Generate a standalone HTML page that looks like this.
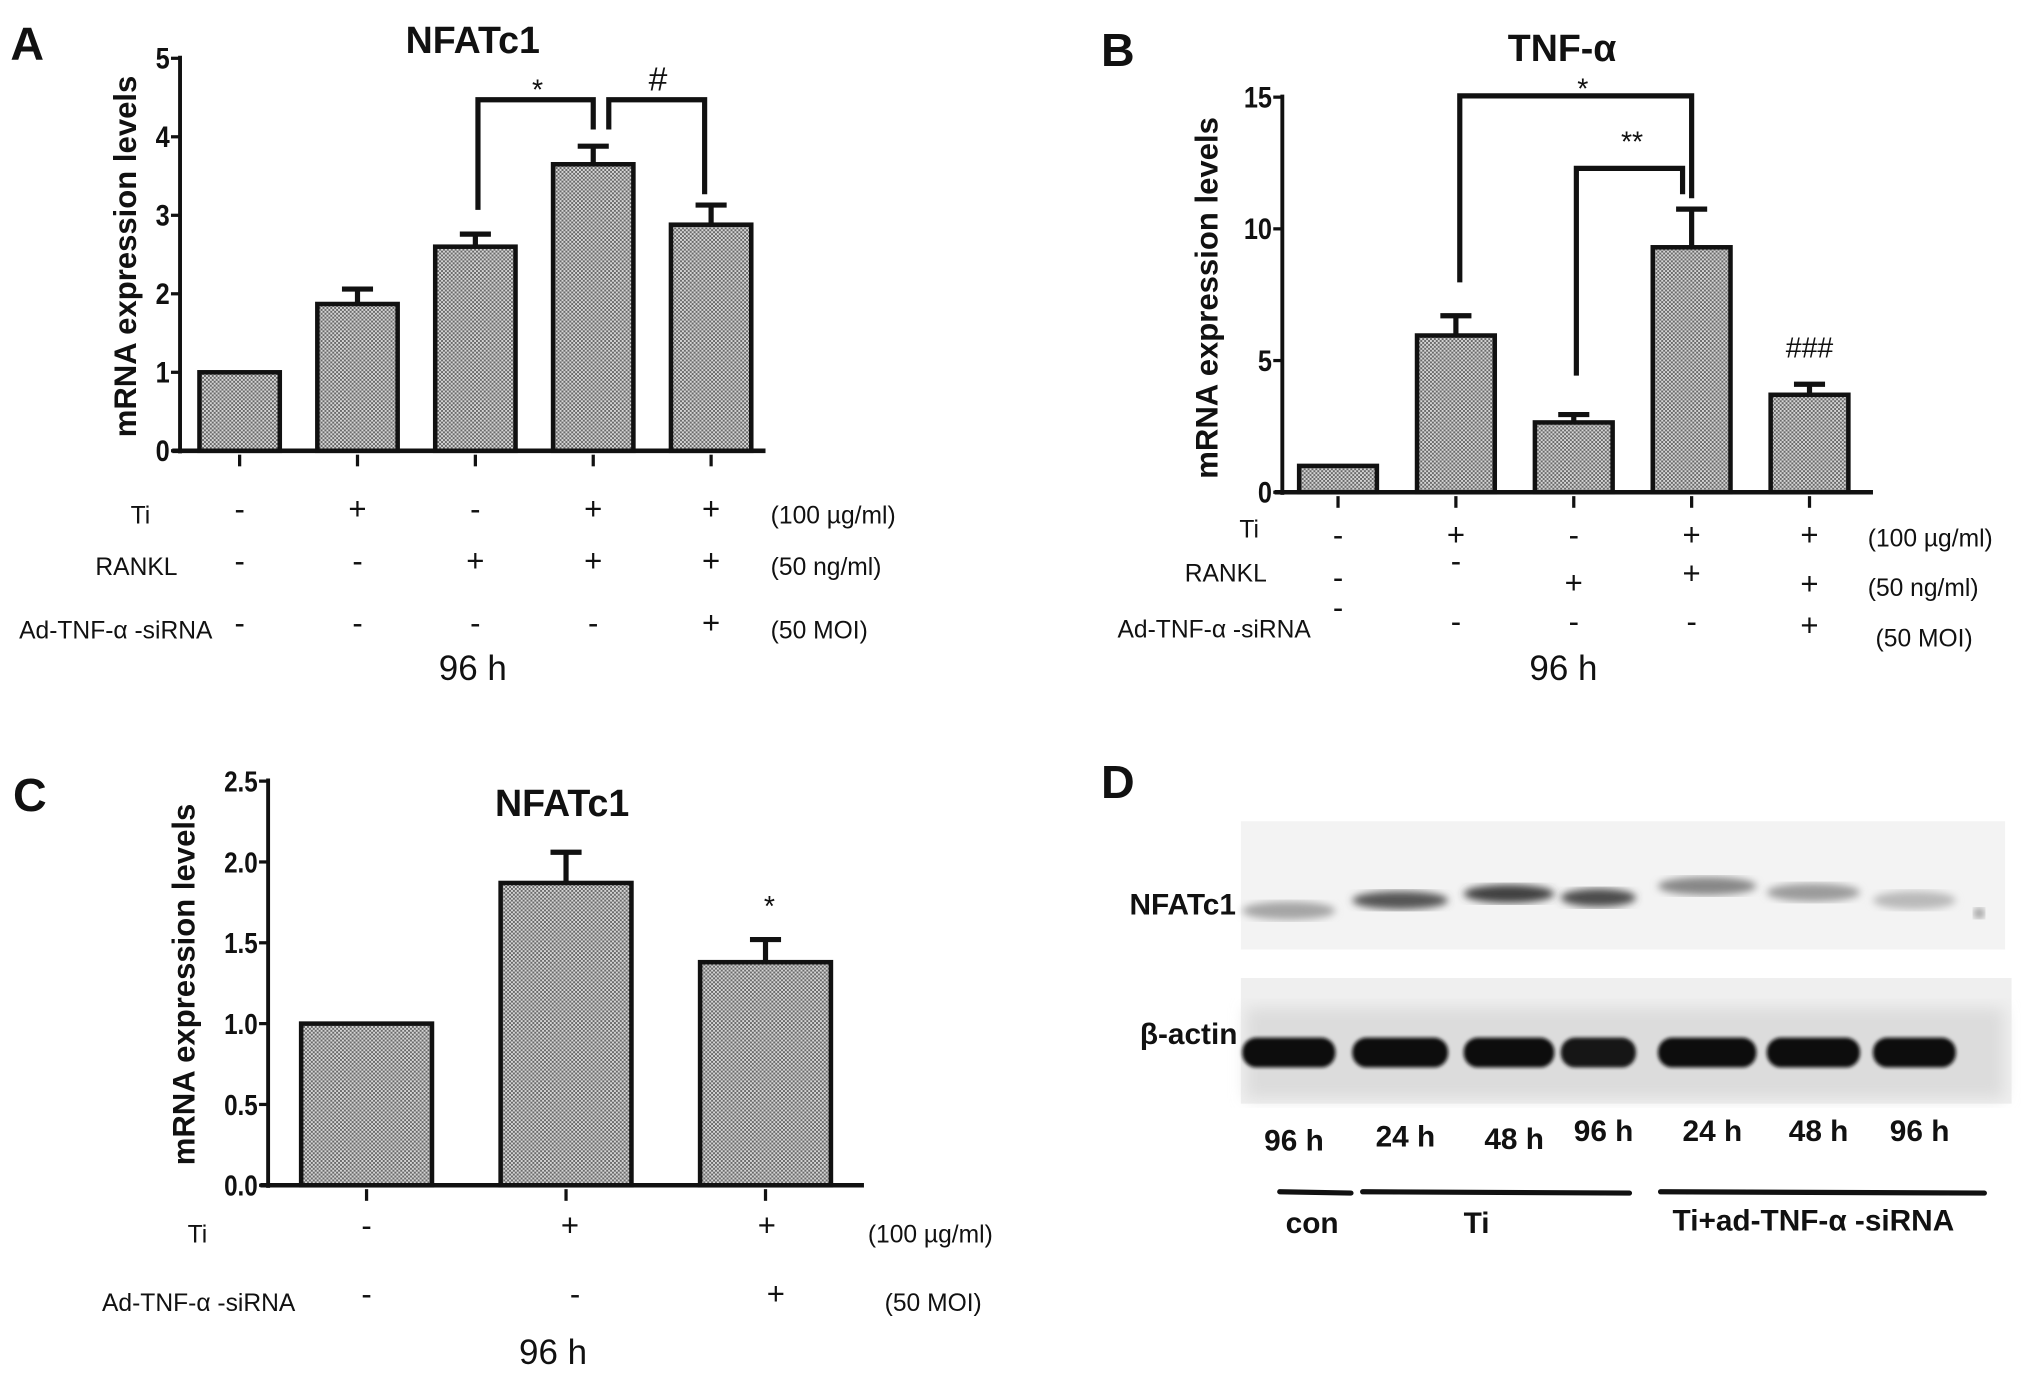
<!DOCTYPE html>
<html><head><meta charset="utf-8">
<style>
html,body{margin:0;padding:0;background:#fff;}
svg{display:block;}
text{font-family:"Liberation Sans","DejaVu Sans",sans-serif;fill:#111;}
.b{font-weight:bold;}
</style></head>
<body>
<svg id="fig" width="2031" height="1377" viewBox="0 0 1568 1063" preserveAspectRatio="none" xmlns="http://www.w3.org/2000/svg">
<defs>
<pattern id="chk" width="3" height="3" patternUnits="userSpaceOnUse">
<rect width="3" height="3" fill="#d4d4d4"/><rect width="1.5" height="1.5" fill="#6a6a6a"/><rect x="1.5" y="1.5" width="1.5" height="1.5" fill="#6a6a6a"/>
</pattern>
<filter id="blur"><feGaussianBlur stdDeviation="3"/></filter>
<filter id="blur1"><feGaussianBlur stdDeviation="1.5"/></filter>
<filter id="blur2"><feGaussianBlur stdDeviation="6"/></filter>
</defs>
<g id="root"></g>
</svg>
<script>
// ---- Panel A data ----
const aCats = ["g1","g2","g3","g4","g5"];
const aVals = [1.0, 1.87, 2.6, 3.65, 2.88];
const aErr  = [0, 0.19, 0.16, 0.23, 0.25];
const aTicks = [0,1,2,3,4,5];
const aTi    = ["-","+","-","+","+"];
const aRankl = ["-","-","+","+","+"];
const aSi    = ["-","-","-","-","+"];
// ---- Panel B data ----
const bCats = ["g1","g2","g3","g4","g5"];
const bVals = [1.0, 5.95, 2.65, 9.3, 3.7];
const bErr  = [0, 0.75, 0.3, 1.45, 0.4];
const bTicks = [0,5,10,15];
const bTi    = ["-","+","-","+","+"];
const bRankl = ["-","-","+","+","+"];
const bSi    = ["-","-","-","-","+"];
// ---- Panel C data ----
const cCats = ["g1","g2","g3"];
const cVals = [1.0, 1.87, 1.38];
const cErr  = [0, 0.19, 0.14];
const cTicks = ["0.0","0.5","1.0","1.5","2.0","2.5"];
const cTi = ["-","+","+"];
const cSi = ["-","-","+"];
// ---- Panel D data ----
const dLanes = ["96 h","24 h","48 h","96 h","24 h","48 h","96 h"];
const dNfat  = [0.35, 0.75, 0.85, 0.8, 0.5, 0.4, 0.25];
const dActin = [1, 1, 0.95, 0.9, 0.95, 0.95, 0.95];

const NS="http://www.w3.org/2000/svg";
const root=document.getElementById('root');
function el(tag,attrs,parent){const e=document.createElementNS(NS,tag);for(const k in attrs)e.setAttribute(k,attrs[k]);(parent||root).appendChild(e);return e;}
function txt(s,x,y,size,attrs,parent){const t=el('text',Object.assign({x:x,y:y,'font-size':size},attrs||{}),parent);t.textContent=s;return t;}

function barChart(cfg){
  const g=el('g',{});
  
  
  const yS=v=>cfg.y0-(v-cfg.min)/(cfg.max-cfg.min)*(cfg.y0-cfg.yTop);
  const xS=i=>cfg.x0+cfg.first+i*cfg.step;
  cfg.vals.forEach((v,i)=>{
    const cx=xS(i);
    const r=el('rect',{x:cx-cfg.bw/2,y:yS(v),width:cfg.bw,height:cfg.y0-yS(v),fill:'url(#chk)',stroke:'#111','stroke-width':3.5},g);
    
    
    if(cfg.err[i]>0){
      const e=el('path',{d:`M${cx} ${yS(v)} V${yS(v+cfg.err[i])} M${cx-12} ${yS(v+cfg.err[i])} H${cx+12}`,stroke:'#111','stroke-width':4,fill:'none'},g);
      
      
    }
    const tk=el('line',{x1:cx,x2:cx,y1:cfg.y0+3,y2:cfg.y0+12,stroke:'#111','stroke-width':2.5},g);
    
    
  });
  const ya=el('line',{x1:cfg.x0,x2:cfg.x0,y1:cfg.yTop-2,y2:cfg.y0+2,stroke:'#111','stroke-width':3},g);
  
  
  const xa=el('line',{x1:cfg.x0-6,x2:cfg.xEnd,y1:cfg.y0,y2:cfg.y0,stroke:'#111','stroke-width':3.5},g);
  
  
  cfg.ticks.forEach(t=>{
    const y=yS(parseFloat(t));
    el('line',{x1:cfg.x0-7,x2:cfg.x0,y1:y,y2:y,stroke:'#111','stroke-width':2.5},g);
    const tl=txt(String(t),cfg.x0-8,y+8,cfg.tickSize,{'text-anchor':'end',class:'b',transform:`translate(${(cfg.x0-8)*0.15} 0) scale(0.85 1)`},g);
    
    
  });
  return {yS,xS,g};
}

function rows(xS,rowsDef,g){
  rowsDef.forEach(r=>{
    const l=txt(r.label,r.lx,r.ly,19,{'text-anchor':'end'},g);
    
    
    r.vals.forEach((s,i)=>{
      const yy=(r.ys?r.ys[i]:r.y);
      const t=txt(s,xS(i)+(r.dx?r.dx[i]:0),yy,24,{'text-anchor':'middle'},g);
      
      
    });
    const u=txt(r.unit,r.ux,r.uy||r.y,19,{},g);
    
    
  });
}
function bracket(d,g,name){
  const p=el('path',{d:d,stroke:'#111','stroke-width':4,fill:'none'},g);
  
  
}
function ytitle(x,y,g){
  const t=txt('mRNA expression levels',0,0,24,{class:'b','text-anchor':'middle',transform:`translate(${x},${y}) rotate(-90)`},g);
  
  
}

// ===== Panel A =====
(function(){
  const A=barChart({name:'panel-a-chart',cats:aCats,vals:aVals,err:aErr,ticks:aTicks,min:0,max:5,x0:139,y0:348,yTop:45,xEnd:591,first:46,step:91,bw:62,tickSize:23});
  const g=A.g;
  let t=txt('A',8,46,36,{class:'b'},g);
  t=txt('NFATc1',365,41,29,{class:'b','text-anchor':'middle'},g);
  ytitle(105,198,g);
  bracket(`M${A.xS(2)+2} 162 V77 H${A.xS(3)} V100`,g,'significance-bracket-star');
  bracket(`M${A.xS(3)+12} 100 V77 H${A.xS(4)-5} V150`,g,'significance-bracket-hash');
  t=txt('*',415,77,22,{'text-anchor':'middle'},g);
  t=txt('#',508,70,26,{'text-anchor':'middle'},g);
  rows(A.xS,[
    {label:'Ti',lx:116,ly:404,vals:aTi,y:401,unit:'(100 µg/ml)',ux:595,uy:404},
    {label:'RANKL',lx:137,ly:444,vals:aRankl,y:441,unit:'(50 ng/ml)',ux:595,uy:444},
    {label:'Ad-TNF-α -siRNA',lx:164,ly:493,vals:aSi,y:489,unit:'(50 MOI)',ux:595,uy:493}
  ],g);
  t=txt('96 h',365,525,27,{'text-anchor':'middle'},g);
})();

// ===== Panel B =====
(function(){
  const B=barChart({name:'panel-b-chart',cats:bCats,vals:bVals,err:bErr,ticks:bTicks,min:0,max:15,x0:990,y0:380,yTop:75,xEnd:1446,first:43,step:91,bw:60,tickSize:23});
  const g=B.g;
  let t=txt('B',850,51,36,{class:'b'},g);
  t=txt('TNF-α',1206,47,29,{class:'b','text-anchor':'middle'},g);
  ytitle(940,230,g);
  bracket(`M${B.xS(1)+3} 218 V74 H${B.xS(3)} V153`,g,'significance-bracket-star');
  bracket(`M${B.xS(2)+2} 290 V130 H${B.xS(3)-7} V150`,g,'significance-bracket-double-star');
  t=txt('*',1222,76,22,{'text-anchor':'middle'},g);
  t=txt('**',1260,117,22,{'text-anchor':'middle'},g);
  t=txt('###',B.xS(4),276,22,{'text-anchor':'middle'},g);
  rows(B.xS,[
    {label:'Ti',lx:972,ly:415,vals:bTi,y:421,unit:'(100 µg/ml)',ux:1442,uy:422},
    {label:'RANKL',lx:978,ly:449,vals:bRankl,ys:[454,441,458,451,459],unit:'(50 ng/ml)',ux:1442,uy:460},
    {label:'Ad-TNF-α -siRNA',lx:1012,ly:492,vals:bSi,ys:[477,488,488,488,491],unit:'(50 MOI)',ux:1448,uy:499}
  ],g);
  t=txt('96 h',1207,525,27,{'text-anchor':'middle'},g);
})();

// ===== Panel C =====
(function(){
  const C=barChart({name:'panel-c-chart',cats:cCats,vals:cVals,err:cErr,ticks:cTicks,min:0,max:2.5,x0:207,y0:915,yTop:603,xEnd:667,first:76,step:154,bw:101,tickSize:22});
  const g=C.g;
  let t=txt('C',10,626,36,{class:'b'},g);
  t=txt('NFATc1',434,630,29,{class:'b','text-anchor':'middle'},g);
  ytitle(150,760,g);
  t=txt('*',C.xS(2)+3,707,22,{'text-anchor':'middle'},g);
  rows(C.xS,[
    {label:'Ti',lx:160,ly:959,vals:cTi,y:954,dx:[0,3,1],unit:'(100 µg/ml)',ux:670,uy:959},
    {label:'Ad-TNF-α -siRNA',lx:228,ly:1012,vals:cSi,y:1007,dx:[0,7,8],unit:'(50 MOI)',ux:683,uy:1012}
  ],g);
  t=txt('96 h',427,1053,27,{'text-anchor':'middle'},g);
})();

// ===== Panel D =====
(function(){
  const g=el('g',{});
  
  
  let t=txt('D',850,616,36,{class:'b'},g);
  const laneX=[995,1081,1165,1234,1318,1400,1478];
  const laneW=[72,74,70,58,76,72,64];
  const nfY=[703,695,690,693,684,689,695];
  const m1=el('rect',{x:958,y:634,width:590,height:99,fill:'#f3f3f3'},g);
  
  
  const m2=el('rect',{x:958,y:755,width:595,height:97,fill:'#efefef'},g);
  
  
  el('rect',{x:962,y:778,width:585,height:70,fill:'#dcdcdc',filter:'url(#blur2)'},g);
  dLanes.forEach((l,i)=>{
    const c=Math.round(235-dNfat[i]*200);
    const b=el('ellipse',{cx:laneX[i],cy:nfY[i],rx:laneW[i]/2,ry:7,fill:`rgb(${c},${c},${c})`,filter:'url(#blur)'},g);
    
    
    const a=Math.round(40-dActin[i]*25);
    const ab=el('rect',{x:laneX[i]-laneW[i]/2,y:801,width:laneW[i],height:23,rx:11,fill:`rgb(${a},${a},${a})`,filter:'url(#blur1)'},g);
    
    
    const lt=txt(l,laneX[i]+4,[888,885,887,881,881,881,881][i],23,{class:'b','text-anchor':'middle'},g);
    
    
  });
  el('circle',{cx:1528,cy:705,r:4,fill:'#888',filter:'url(#blur)'},g);
  t=txt('NFATc1',872,706,23,{class:'b'},g);
  t=txt('β-actin',880,806,23,{class:'b'},g);
  [[988,1043],[1052,1258],[1282,1532]].forEach(s=>{
    const ln=el('line',{x1:s[0],x2:s[1],y1:920,y2:921,stroke:'#111','stroke-width':4,'stroke-linecap':'round'},g);
    
    
  });
  t=txt('con',1013,952,23,{class:'b','text-anchor':'middle'},g);
  t=txt('Ti',1140,952,23,{class:'b','text-anchor':'middle'},g);
  t=txt('Ti+ad-TNF-α -siRNA',1400,950,23,{class:'b','text-anchor':'middle'},g);
})();
</script>
</body></html>
